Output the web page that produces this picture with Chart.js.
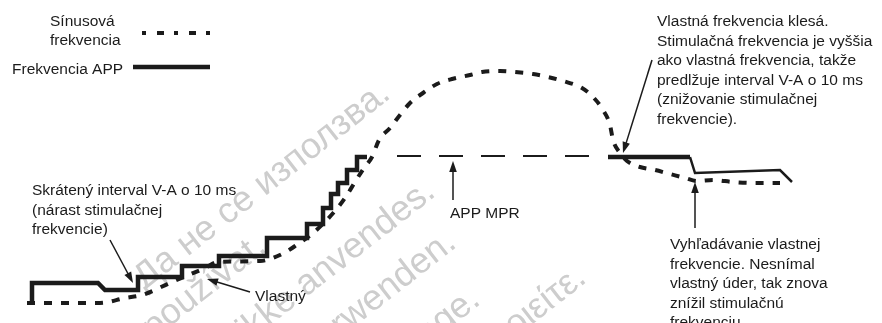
<!DOCTYPE html>
<html>
<head>
<meta charset="utf-8">
<script src="https://cdn.jsdelivr.net/npm/chart.js@4/dist/chart.umd.min.js"></script>
<style>
  html, body { margin: 0; padding: 0; background: #fff; }
  #wrap { width: 882px; height: 323px; position: relative; }
</style>
</head>
<body>
<div id="wrap"><canvas id="chart"></canvas></div>
<script>
// time (arbitrary units) and rate values
var sinusTime = [27, 100, 125, 142, 172, 205, 218, 260, 284, 298, 312, 335, 345, 355, 364, 372,
  379, 390, 400, 410, 423, 437, 452, 470, 482, 500, 515, 533, 548, 563, 582, 593, 603, 610, 613,
  620, 627, 640, 655, 670, 685, 697, 713, 733, 755, 780];
var sinusRate = [20, 20, 25, 28, 41, 55, 61, 62, 70, 79, 89, 112, 125, 141, 155, 166,
  183, 195, 208, 220, 230, 239, 244, 248, 251, 252, 251, 249, 246, 242, 235, 226, 213, 198, 183,
  170, 162, 156, 153, 149, 145, 142, 143, 141, 140, 140];

var appTime = [32, 32, 98, 105, 138, 138, 182, 182, 219, 219, 267, 267, 307, 307, 323, 323,
  331, 331, 338, 338, 347, 347, 357, 357, 367, 380, 608, 690, 695, 780, 792];
var appRate = [18, 40, 40, 33, 33, 46, 46, 57, 57, 67, 67, 85, 85, 99, 99, 115,
  115, 129, 129, 140, 140, 153, 153, 166, 166, null, 166, 166, 150, 153, 141];

var mprTime = [397, 590];
var mprRate = [167, 167];

var seriesNames = ['Sínusová frekvencia', 'Frekvencia APP', 'APP MPR'];

function toPoints(xs, ys) {
  return xs.map(function (x, i) { return { x: x, y: ys[i] }; });
}

var FONT = '15.5px "Liberation Sans", Arial, sans-serif';
var INK = '#1b1b1b';
var SINUS_DASH = [8, 9];

// text blocks: left x, first baseline (data units), lines
var notes = [
  { x: 32, y: 128, lines: ['Skrátený interval V-A o 10 ms', '(nárast stimulačnej', 'frekvencie)'] },
  { x: 255, y: 22, lines: ['Vlastný'] },
  { x: 450, y: 105, lines: ['APP MPR'] },
  { x: 657, y: 297, lines: ['Vlastná frekvencia klesá.', 'Stimulačná frekvencia je vyššia',
    'ako vlastná frekvencia, takže', 'predlžuje interval V-A o 10 ms', '(znižovanie stimulačnej', 'frekvencie).'] },
  { x: 670, y: 74, lines: ['Vyhľadávanie vlastnej', 'frekvencie. Nesnímal', 'vlastný úder, tak znova',
    'znížil stimulačnú', 'frekvenciu.'] }
];

// arrows: from (x0,y0) to tip (x1,y1)
var arrows = [
  [110, 83, 133, 40],
  [250, 31, 207, 44],
  [453, 123, 453, 162],
  [652, 263, 623, 170],
  [695, 95, 695, 141]
];

var watermarks = [
  { x: 392, y: 226, text: 'Да не се използва.' },
  { x: 268, y: 73, text: 'Nepoužívat.' },
  { x: 437, y: 128, text: 'Må ikke anvendes.' },
  { x: 458, y: 77, text: 'Nicht verwenden.' },
  { x: 482, y: 20, text: 'Ärge kasutage.' },
  { x: 588, y: 42, text: 'Μην τη χρησιμοποιείτε.' }
];

var drawings = {
  id: 'drawings',
  beforeDatasetsDraw: function (chart) {
    var c = chart.ctx, sx = chart.scales.x, sy = chart.scales.y;
    c.save();
    c.font = '36px "Liberation Sans", Arial, sans-serif';
    c.fillStyle = '#cdcdcd';
    c.textAlign = 'right';
    c.textBaseline = 'alphabetic';
    watermarks.forEach(function (w) {
      c.save();
      c.translate(sx.getPixelForValue(w.x), sy.getPixelForValue(w.y));
      c.rotate(-38 * Math.PI / 180);
      c.fillText(w.text, 0, 0);
      c.restore();
    });
    c.restore();
  },
  afterDatasetsDraw: function (chart) {
    var c = chart.ctx, sx = chart.scales.x, sy = chart.scales.y;
    c.save();
    c.font = FONT;
    c.fillStyle = INK;
    c.textAlign = 'left';
    c.textBaseline = 'alphabetic';
    notes.forEach(function (n) {
      var px = sx.getPixelForValue(n.x), py = sy.getPixelForValue(n.y);
      n.lines.forEach(function (t, i) { c.fillText(t, px, py + i * 19.5); });
    });

    // legend
    c.fillText('Sínusová', sx.getPixelForValue(50), sy.getPixelForValue(297));
    c.fillText('frekvencia', sx.getPixelForValue(50), sy.getPixelForValue(278));
    c.fillText('Frekvencia APP', sx.getPixelForValue(12), sy.getPixelForValue(249));
    c.strokeStyle = INK;
    c.lineWidth = 4;
    c.setLineDash([4, 11, 7, 10]);
    c.beginPath();
    c.moveTo(sx.getPixelForValue(142), sy.getPixelForValue(290));
    c.lineTo(sx.getPixelForValue(214), sy.getPixelForValue(290));
    c.stroke();
    c.setLineDash([]);
    c.lineWidth = 4.5;
    c.beginPath();
    c.moveTo(sx.getPixelForValue(133), sy.getPixelForValue(256));
    c.lineTo(sx.getPixelForValue(210), sy.getPixelForValue(256));
    c.stroke();

    // arrows
    c.lineWidth = 1.5;
    arrows.forEach(function (a) {
      var x0 = sx.getPixelForValue(a[0]), y0 = sy.getPixelForValue(a[1]);
      var x1 = sx.getPixelForValue(a[2]), y1 = sy.getPixelForValue(a[3]);
      var ang = Math.atan2(y1 - y0, x1 - x0), L = 11, W = 3.8;
      c.beginPath();
      c.moveTo(x0, y0);
      c.lineTo(x1 - Math.cos(ang) * L * 0.8, y1 - Math.sin(ang) * L * 0.8);
      c.stroke();
      c.beginPath();
      c.moveTo(x1, y1);
      c.lineTo(x1 - Math.cos(ang) * L - Math.sin(ang) * W, y1 - Math.sin(ang) * L + Math.cos(ang) * W);
      c.lineTo(x1 - Math.cos(ang) * L + Math.sin(ang) * W, y1 - Math.sin(ang) * L - Math.cos(ang) * W);
      c.closePath();
      c.fill();
    });
    c.restore();
  }
};

new Chart(document.getElementById('chart'), {
  type: 'line',
  data: {
    datasets: [
      {
        label: seriesNames[0],
        data: toPoints(sinusTime, sinusRate),
        borderColor: INK,
        borderWidth: 4,
        borderDash: SINUS_DASH,
        cubicInterpolationMode: 'monotone',
        pointRadius: 0,
        fill: false
      },
      {
        label: seriesNames[1],
        data: toPoints(appTime, appRate),
        borderColor: INK,
        borderWidth: 4.5,
        borderJoinStyle: 'miter',
        borderCapStyle: 'butt',
        tension: 0,
        spanGaps: false,
        pointRadius: 0,
        fill: false,
        segment: {
          borderWidth: function (ctx) { return ctx.p0.parsed.x >= 690 ? 2.5 : undefined; }
        }
      },
      {
        label: seriesNames[2],
        data: toPoints(mprTime, mprRate),
        borderColor: INK,
        borderWidth: 2,
        borderDash: [24, 18],
        pointRadius: 0,
        fill: false
      }
    ]
  },
  options: {
    responsive: true,
    maintainAspectRatio: false,
    animation: false,
    layout: { padding: 0 },
    scales: {
      x: { type: 'linear', min: 0, max: 882, display: false },
      y: { type: 'linear', min: 0, max: 323, display: false }
    },
    plugins: {
      legend: { display: false },
      tooltip: { enabled: false }
    }
  },
  plugins: [drawings]
});
</script>
</body>
</html>
